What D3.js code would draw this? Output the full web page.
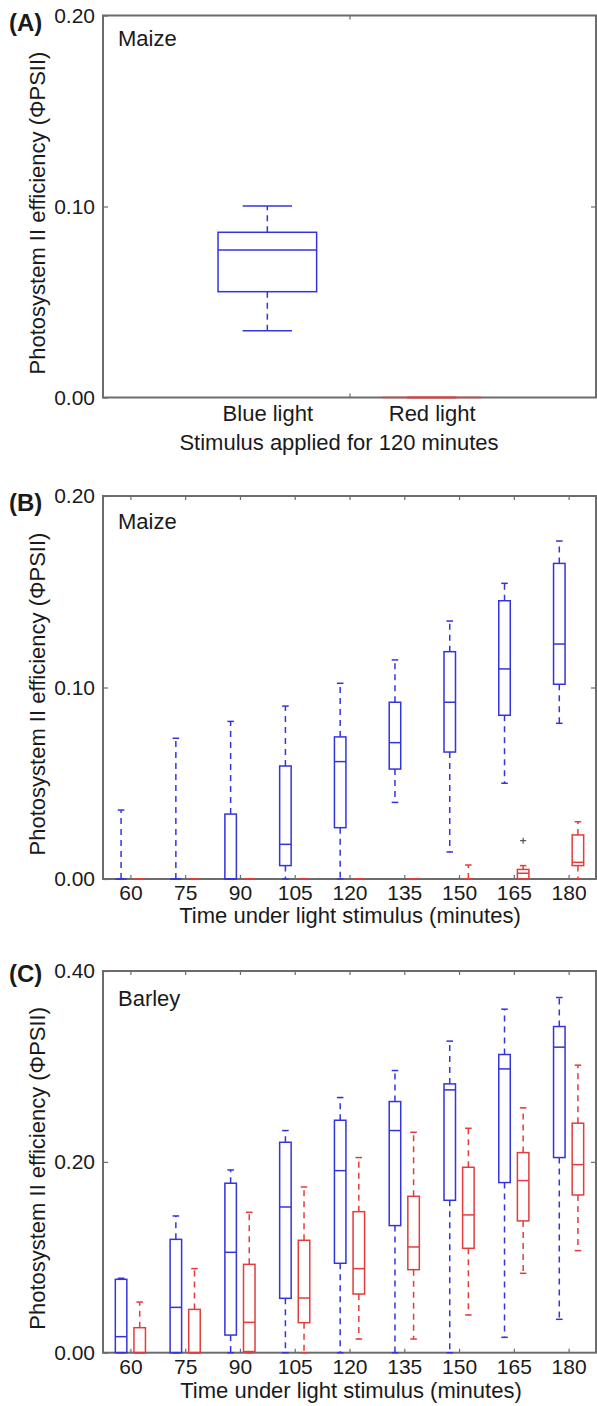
<!DOCTYPE html>
<html>
<head>
<meta charset="utf-8">
<script src="https://cdn.jsdelivr.net/npm/d3@7"></script>
<style>
  body { margin: 0; background: #fff; }
  svg text { font-family: "Liberation Sans", Arial, sans-serif; fill: #1a1a1a; }
</style>
</head>
<body>
<svg id="fig" width="597" height="1406"></svg>
<script>
// each box: [lower whisker, q1, median, q3, upper whisker]
const stimulusCats = ['Blue light', 'Red light'];
const maizeStim120 = [
  [0.035, 0.0554, 0.0772, 0.0865, 0.1003],
  [0, 0, 0, 0, 0]
];

const timeTicks = [60, 75, 90, 105, 120, 135, 150, 165, 180];

const maizeBlue = [
  [0, 0, 0, 0, 0.036],
  [0, 0, 0, 0, 0.0735],
  [0, 0, 0, 0.0339, 0.0823],
  [0, 0.0070, 0.0181, 0.059, 0.0903],
  [0, 0.0268, 0.0613, 0.0742, 0.1022],
  [0.040, 0.0574, 0.0712, 0.0923, 0.1144],
  [0.0141, 0.0663, 0.0923, 0.1187, 0.1347],
  [0.050, 0.0855, 0.1097, 0.1453, 0.1544],
  [0.0813, 0.1017, 0.1227, 0.1648, 0.1765]
];
const maizeRed = [
  [0, 0, 0, 0, 0],
  [0, 0, 0, 0, 0],
  [0, 0, 0, 0, 0],
  [0, 0, 0, 0, 0],
  [0, 0, 0, 0, 0],
  [0, 0, 0, 0, 0],
  [0, 0, 0, 0, 0.0073],
  [0, 0, 0.0030, 0.0050, 0.0070],
  [0, 0.0070, 0.0087, 0.0230, 0.0299]
];
// outliers of the red maize boxes: [group index, value]
const maizeRedOutliers = [[8, 0.020]];

const barleyBlue = [
  [0, 0, 0.0168, 0.0769, 0.078],
  [0, 0, 0.0475, 0.1188, 0.1433],
  [0, 0.0185, 0.1052, 0.1776, 0.1915],
  [0, 0.0570, 0.1527, 0.2205, 0.2328],
  [0, 0.0937, 0.1908, 0.2436, 0.2674],
  [0, 0.1332, 0.2328, 0.2632, 0.2957],
  [0, 0.1597, 0.2754, 0.2817, 0.3265],
  [0.0161, 0.1783, 0.2974, 0.3125, 0.3600],
  [0.0350, 0.2045, 0.3202, 0.3418, 0.3722]
];
const barleyRed = [
  [0, 0, 0, 0.0262, 0.0531],
  [0, 0, 0, 0.0454, 0.0881],
  [0, 0.0012, 0.0318, 0.0926, 0.1471],
  [0, 0.0315, 0.0573, 0.1178, 0.1737],
  [0.0143, 0.0615, 0.0881, 0.1478, 0.2045],
  [0.0143, 0.0870, 0.1108, 0.1639, 0.2310],
  [0.0395, 0.1094, 0.1444, 0.1943, 0.2352],
  [0.0832, 0.1381, 0.1804, 0.2097, 0.2566],
  [0.1070, 0.1653, 0.1971, 0.2405, 0.3013]
];

const blue = '#3434dc';
const red = '#e23c3c';
const frameColor = '#6c6c6c';
const yLabel = 'Photosystem II efficiency (\u03A6PSII)';

let svg = d3.select('#fig');
let left = 103, right = 596;

function drawBox(g, x, y, pos, s, color, boxW, capW) {
  let [lo, q1, med, q3, hi] = s;
  let cx = x(pos);
  let wg = g.append('g')
    .attr('stroke', color)
    .attr('stroke-width', 1.5)
    .attr('fill', 'none');
  // whiskers
  wg.append('line')
    .attr('x1', cx).attr('x2', cx)
    .attr('y1', y(q3)).attr('y2', y(hi))
    .attr('stroke-dasharray', '6,5');
  wg.append('line')
    .attr('x1', cx).attr('x2', cx)
    .attr('y1', y(q1)).attr('y2', y(lo))
    .attr('stroke-dasharray', '6,5');
  for (let v of [lo, hi]) {
    wg.append('line')
      .attr('x1', x(pos - capW / 2)).attr('x2', x(pos + capW / 2))
      .attr('y1', y(v)).attr('y2', y(v));
  }
  wg.append('rect')
    .attr('x', x(pos - boxW / 2))
    .attr('width', x(pos + boxW / 2) - x(pos - boxW / 2))
    .attr('y', y(q3))
    .attr('height', Math.max(y(q1) - y(q3), 0));
  wg.append('line')
    .attr('x1', x(pos - boxW / 2)).attr('x2', x(pos + boxW / 2))
    .attr('y1', y(med)).attr('y2', y(med));
}

function styleAxis(g, size) {
  g.attr('font-size', size)
    .attr('font-family', '"Liberation Sans", Arial, sans-serif');
  g.select('.domain').remove();
  g.selectAll('.tick line').attr('stroke', frameColor).attr('stroke-width', 1.2);
  g.selectAll('.tick text').attr('fill', '#1a1a1a');
}

function drawPanel(cfg) {
  let g = svg.append('g');
  let x = d3.scaleLinear().domain(cfg.xDomain).range([left, right]);
  let y = d3.scaleLinear().domain([0, cfg.yMax]).range([cfg.bottom, cfg.top]);

  // y ticks and labels
  let yl = g.append('g')
    .attr('transform', `translate(${left},0)`)
    .call(d3.axisLeft(y).tickValues([0, cfg.yMax / 2, cfg.yMax])
      .tickFormat(d3.format('.2f')).tickSizeInner(-5).tickSizeOuter(0).tickPadding(8));
  styleAxis(yl, 21);
  let yr = g.append('g')
    .attr('transform', `translate(${right},0)`)
    .call(d3.axisRight(y).tickValues([cfg.yMax / 2])
      .tickFormat('').tickSizeInner(-5).tickSizeOuter(0));
  styleAxis(yr, 21);

  // x ticks (inward, top and bottom)
  let xb = g.append('g')
    .attr('transform', `translate(0,${cfg.bottom})`)
    .call(d3.axisBottom(x).tickValues(cfg.tickPos).tickFormat('')
      .tickSizeInner(-4).tickSizeOuter(0));
  styleAxis(xb, 21);
  let xt = g.append('g')
    .attr('transform', `translate(0,${cfg.top})`)
    .call(d3.axisTop(x).tickValues(cfg.tickPos).tickFormat('')
      .tickSizeInner(-4).tickSizeOuter(0));
  styleAxis(xt, 21);

  // x labels
  let xlab = g.append('g')
    .attr('transform', `translate(0,${cfg.bottom})`)
    .call(d3.axisBottom(x).tickValues(cfg.labelPos)
      .tickFormat((d, i) => cfg.labels[i]).tickSize(0).tickPadding(cfg.labelPad));
  styleAxis(xlab, cfg.labelSize);

  // frame
  g.append('rect')
    .attr('x', left).attr('y', cfg.top)
    .attr('width', right - left).attr('height', cfg.bottom - cfg.top)
    .attr('fill', 'none')
    .attr('stroke', frameColor)
    .attr('stroke-width', 2);

  // boxes
  for (let s of cfg.series) {
    s.data.forEach((d, i) => {
      drawBox(g, x, y, cfg.labelPos[i] + s.offset, d, s.color, cfg.boxW, cfg.capW);
    });
  }
  if (cfg.outliers) {
    for (let [i, v] of cfg.outliers) {
      let cx = x(cfg.labelPos[i - 1] + cfg.outlierOffset), cy = y(v);
      g.append('path')
        .attr('d', `M${cx - 3},${cy}H${cx + 3}M${cx},${cy - 3}V${cy + 3}`)
        .attr('stroke', '#555')
        .attr('stroke-width', 1.2);
    }
  }

  // texts
  g.append('text')
    .attr('x', 118).attr('y', cfg.top + cfg.nameDy)
    .attr('font-size', 22)
    .text(cfg.name);
  g.append('text')
    .attr('x', 9).attr('y', cfg.letterY)
    .attr('font-size', 24)
    .attr('font-weight', 'bold')
    .text(cfg.letter);
  g.append('text')
    .attr('transform', `translate(45,${(cfg.top + cfg.bottom) / 2 + 6.5}) rotate(-90)`)
    .attr('text-anchor', 'middle')
    .attr('font-size', 22)
    .text(yLabel);
  g.append('text')
    .attr('x', cfg.xTitleX).attr('y', cfg.bottom + cfg.xTitleDy)
    .attr('text-anchor', 'middle')
    .attr('font-size', 22)
    .text(cfg.xTitle);
}

let groupPos = timeTicks.map((d, i) => i + 1);

drawPanel({
  letter: '(A)', letterY: 31, name: 'Maize', nameDy: 30,
  top: 15.5, bottom: 397.5, yMax: 0.2,
  xDomain: [0, 3], tickPos: [1.5], labelPos: [1, 2], labels: stimulusCats,
  labelPad: 7.5, labelSize: 22, boxW: 0.6, capW: 0.3,
  series: [
    {data: [maizeStim120[0]], color: blue, offset: 0},
    {data: [maizeStim120[1]], color: red, offset: 1}
  ],
  xTitle: 'Stimulus applied for 120 minutes', xTitleX: 339, xTitleDy: 52.5
});

drawPanel({
  letter: '(B)', letterY: 511, name: 'Maize', nameDy: 33,
  top: 496, bottom: 879, yMax: 0.2,
  xDomain: [0.5, 9.5], tickPos: groupPos, labelPos: groupPos, labels: timeTicks,
  labelPad: 6, labelSize: 21, boxW: 0.21, capW: 0.12,
  series: [
    {data: maizeBlue, color: blue, offset: -0.17},
    {data: maizeRed, color: red, offset: 0.17}
  ],
  outliers: maizeRedOutliers, outlierOffset: 0.17,
  xTitle: 'Time under light stimulus (minutes)', xTitleX: 350, xTitleDy: 44
});

drawPanel({
  letter: '(C)', letterY: 982, name: 'Barley', nameDy: 34.5,
  top: 971, bottom: 1352.7, yMax: 0.4,
  xDomain: [0.5, 9.5], tickPos: groupPos, labelPos: groupPos, labels: timeTicks,
  labelPad: 6, labelSize: 21, boxW: 0.21, capW: 0.12,
  series: [
    {data: barleyBlue, color: blue, offset: -0.17},
    {data: barleyRed, color: red, offset: 0.17}
  ],
  xTitle: 'Time under light stimulus (minutes)', xTitleX: 351, xTitleDy: 45
});
</script>
</body>
</html>
